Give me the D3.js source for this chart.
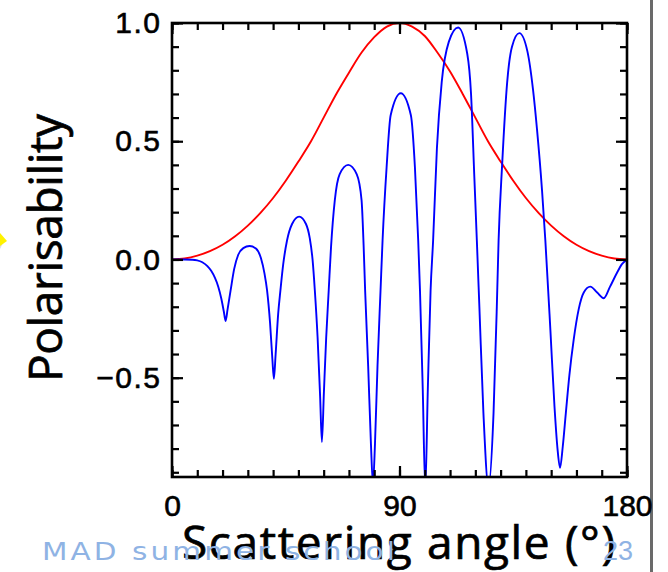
<!DOCTYPE html>
<html>
<head>
<meta charset="utf-8">
<script src="https://cdn.jsdelivr.net/npm/d3@7"></script>
<style>
  html, body { margin: 0; padding: 0; background: #fff; }
  svg { display: block; }
</style>
</head>
<body>
<svg id="chart" width="668" height="572"></svg>
<script>
// Rayleigh-like polarisability (red)
const redAngles = [0, 5, 10, 15, 20, 25, 30, 35, 40, 45, 50, 55, 60, 65, 70, 75, 80, 85, 90,
                   95, 100, 105, 110, 115, 120, 125, 130, 135, 140, 145, 150, 155, 160, 165, 170, 175, 180];
const redValues = [0, 0.004, 0.016, 0.035, 0.062, 0.098, 0.143, 0.197, 0.26, 0.333, 0.414, 0.50, 0.60, 0.70, 0.79, 0.875, 0.94, 0.985, 1.0,
                   0.985, 0.945, 0.875, 0.795, 0.70, 0.60, 0.50, 0.414, 0.333, 0.26, 0.197, 0.143, 0.098, 0.062, 0.035, 0.016, 0.004, 0];

// Large-particle polarisability (blue)
const blueAngles = [0, 5, 8, 10, 12, 14, 15.5, 17, 18.3, 19.5, 20.5, 21.2, 22.0, 23.2, 24.6, 26.2, 28.2, 30.7, 33.2, 35.2, 36.6,
                    37.6, 38.8, 39.7, 40.3, 41.0, 42.0, 42.9, 44.0, 45.5, 47.5, 50.3, 53.0, 54.5, 55.6, 56.5, 57.6, 58.6, 59.3,
                    60.1, 61.0, 62.0, 62.9, 64.4, 66.3, 69.7, 73.1, 75.0, 75.8, 76.4, 77.6, 78.7, 79.5, 80.3, 81.3, 82.5, 83.3,
                    84.9, 86.5, 90.5, 94.5, 96.1, 97.4, 98.1, 99.2, 100.2, 101.2, 102.3, 103.3, 104.8, 106.7, 109.5, 113.2,
                    116.8, 118.3, 119.6, 120.6, 121.6, 123.2, 125.2, 127.2, 128.5, 129.2, 130.6, 132.6, 134.5, 137.4, 140.6,
                    142.8, 144.4, 146.4, 147.7, 149.7, 151.3, 152.5, 153.5, 154.6, 155.8, 157.2, 158.9, 160.9, 162.9, 165.5,
                    168.2, 170.8, 173.3, 176.1, 178, 180];
const blueValues = [0, 0, -0.001, -0.004, -0.012, -0.028, -0.048, -0.078, -0.115, -0.165, -0.22, -0.26, -0.21, -0.13, -0.04, 0.02, 0.048, 0.057, 0.046, 0.005, -0.06,
                    -0.13, -0.27, -0.42, -0.505, -0.40, -0.23, -0.13, -0.02, 0.08, 0.15, 0.181, 0.15, 0.09, 0.0, -0.13, -0.33, -0.58, -0.772,
                    -0.56, -0.33, -0.13, 0.05, 0.25, 0.36, 0.40, 0.36, 0.25, 0.06, -0.13, -0.45, -0.78, -0.95, -0.78, -0.45, -0.13, 0.08,
                    0.39, 0.61, 0.703, 0.61, 0.39, 0.08, -0.13, -0.55, -0.97, -0.55, -0.13, 0.08, 0.47, 0.75, 0.92, 0.981,
                    0.87, 0.70, 0.35, 0.08, -0.2, -0.65, -0.96, -0.65, -0.2, 0.08, 0.40, 0.75, 0.90, 0.957, 0.88,
                    0.72, 0.55, 0.29, 0.08, -0.30, -0.62, -0.80, -0.881, -0.79, -0.65, -0.49, -0.34, -0.21, -0.14, -0.115,
                    -0.14, -0.164, -0.115, -0.055, -0.02, 0];

const xMajorTicks = [0, 90, 180];
const xMinorTicks = [0, 10, 20, 30, 40, 50, 60, 70, 80, 90, 100, 110, 120, 130, 140, 150, 160, 170, 180];
const yMajorTicks = [-0.5, 0, 0.5, 1.0];
const yMinorTicks = [-0.9, -0.8, -0.7, -0.6, -0.5, -0.4, -0.3, -0.2, -0.1, 0, 0.1, 0.2, 0.3, 0.4, 0.5, 0.6, 0.7, 0.8, 0.9, 1.0];

const xTitle = "Scattering angle (°)";
const yTitle = "Polarisability";
const footerText = "MAD summer school";
const pageNumber = "23";

const svg = d3.select("#chart");
const frameLeft = 172, frameRight = 627, frameTop = 23, frameBottom = 477;

const x = d3.scaleLinear().domain([0, 180]).range([frameLeft, frameRight]);
const y = d3.scaleLinear().domain([-0.92, 1.0]).range([frameBottom, frameTop]);

// slide decorations: arrow tip at the left edge and the right border line
svg.append("polygon")
  .attr("points", "0,236 4,241 0,249")
  .attr("fill", "#c8c8c8").attr("opacity", 0.6);
svg.append("polygon")
  .attr("points", "0,233 7,241 0,246")
  .attr("fill", "#fff200");
svg.append("line")
  .attr("x1", 651.5).attr("x2", 651.5).attr("y1", 0).attr("y2", 572)
  .attr("stroke", "#6a6a6a").attr("stroke-width", 3);

// curves, clipped to the plot frame
svg.append("clipPath").attr("id", "plotClip")
  .append("rect").attr("x", frameLeft).attr("y", frameTop)
  .attr("width", frameRight - frameLeft).attr("height", frameBottom - frameTop);

const line = d3.line()
  .x(d => x(d[0]))
  .y(d => y(d[1]))
  .curve(d3.curveMonotoneX);

const plot = svg.append("g").attr("clip-path", "url(#plotClip)");
plot.append("path")
  .datum(redAngles.map((a, i) => [a, redValues[i]]))
  .attr("d", line).attr("fill", "none")
  .attr("stroke", "#ff0000").attr("stroke-width", 1.9);
plot.append("path")
  .datum(blueAngles.map((a, i) => [a, blueValues[i]]))
  .attr("d", line).attr("fill", "none")
  .attr("stroke", "#0000ff").attr("stroke-width", 1.9);

// inward ticks on all four sides
function tickAxis(axisFn, scale, values, size, transform) {
  const g = svg.append("g").attr("transform", transform)
    .call(axisFn(scale).tickValues(values).tickSize(size).tickFormat(""));
  g.select(".domain").remove();
  g.selectAll(".tick line").attr("stroke", "#000").attr("stroke-width", 2.2);
  return g;
}
tickAxis(d3.axisBottom, x, xMinorTicks, -7, `translate(0,${frameBottom})`);
tickAxis(d3.axisBottom, x, xMajorTicks, -11, `translate(0,${frameBottom})`);
tickAxis(d3.axisTop, x, xMinorTicks, -7, `translate(0,${frameTop})`);
tickAxis(d3.axisTop, x, xMajorTicks, -11, `translate(0,${frameTop})`);
tickAxis(d3.axisLeft, y, yMinorTicks, -7, `translate(${frameLeft},0)`);
tickAxis(d3.axisLeft, y, yMajorTicks, -11, `translate(${frameLeft},0)`);
tickAxis(d3.axisRight, y, yMinorTicks, -7, `translate(${frameRight},0)`);
tickAxis(d3.axisRight, y, yMajorTicks, -11, `translate(${frameRight},0)`);

// frame
svg.append("rect")
  .attr("x", frameLeft).attr("y", frameTop)
  .attr("width", frameRight - frameLeft).attr("height", frameBottom - frameTop)
  .attr("fill", "none").attr("stroke", "#000").attr("stroke-width", 2.6);

// tick labels
const labelFont = "'Liberation Sans', Arial, Helvetica, sans-serif";
const xLab = svg.append("g").attr("transform", `translate(0,${frameBottom})`)
  .call(d3.axisBottom(x).tickValues(xMajorTicks).tickSize(0).tickPadding(18).tickFormat(d3.format("d")));
xLab.select(".domain").remove();
xLab.selectAll("text")
  .attr("font-family", labelFont).attr("font-size", 30).attr("fill", "#000")
  .attr("stroke", "#000").attr("stroke-width", 0.6);

const yLab = svg.append("g").attr("transform", `translate(${frameLeft},0)`)
  .call(d3.axisLeft(y).tickValues(yMajorTicks).tickSize(0).tickPadding(10.5).tickFormat(d3.format(".1f")));
yLab.select(".domain").remove();
yLab.selectAll("text")
  .attr("font-family", labelFont).attr("font-size", 30).attr("fill", "#000")
  .attr("letter-spacing", 1.5)
  .attr("stroke", "#000").attr("stroke-width", 0.6);

// axis titles
const titleFont = "'Open Sans', 'DejaVu Sans', sans-serif";
svg.append("text")
  .attr("x", 398.5).attr("y", 559)
  .attr("text-anchor", "middle")
  .attr("font-family", titleFont).attr("font-size", 46)
  .attr("textLength", 433)
  .attr("stroke", "#000").attr("stroke-width", 0.7)
  .text(xTitle);
svg.append("text")
  .attr("transform", "translate(62,248) rotate(-90)")
  .attr("text-anchor", "middle")
  .attr("font-family", titleFont).attr("font-size", 46)
  .attr("textLength", 268)
  .attr("stroke", "#000").attr("stroke-width", 0.7)
  .text(yTitle);

// footer
svg.append("text")
  .attr("x", 42).attr("y", 560)
  .attr("font-family", "'DejaVu Sans', sans-serif").attr("font-size", 24)
  .attr("letter-spacing", 2.5)
  .attr("fill", "#8fb3e4")
  .attr("textLength", 356)
  .attr("lengthAdjust", "spacingAndGlyphs")
  .text(footerText);
svg.append("text")
  .attr("x", 618).attr("y", 560)
  .attr("text-anchor", "middle")
  .attr("font-family", "'Liberation Sans', Arial, sans-serif").attr("font-size", 27)
  .attr("fill", "#8fb3e4")
  .text(pageNumber);
</script>
</body>
</html>
